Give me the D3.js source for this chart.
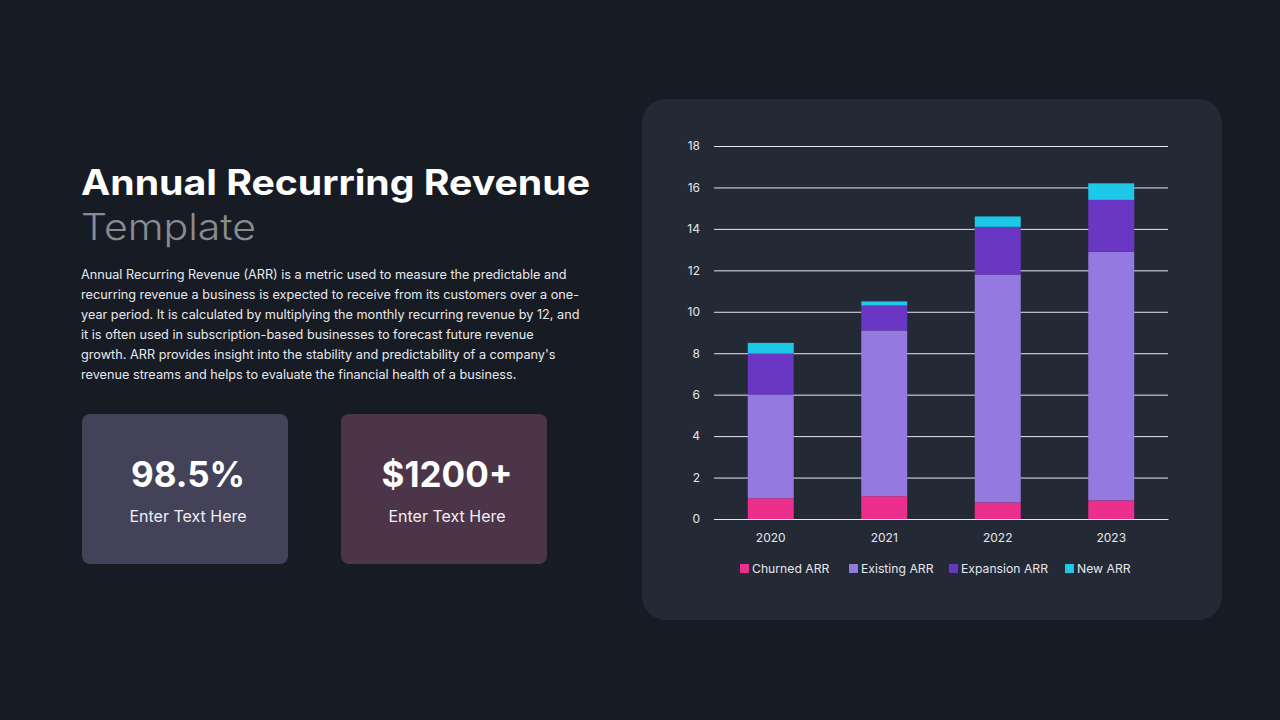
<!DOCTYPE html>
<html><head><meta charset="utf-8">
<script src="https://cdn.jsdelivr.net/npm/d3@7"></script>
<style>
html,body{margin:0;padding:0;background:#171c24;}
svg{display:block;font-family:Inter, "Open Sans", sans-serif;}
</style></head>
<body><svg id="c" width="1280" height="720"></svg>
<script>
const years = ["2020","2021","2022","2023"];
const seriesNames = ["Churned ARR","Existing ARR","Expansion ARR","New ARR"];
const churned = [1.0, 1.1, 0.8, 0.9];
const existing = [5.0, 8.0, 11.0, 12.0];
const expansion = [2.0, 1.2, 2.3, 2.5];
const newArr = [0.5, 0.2, 0.5, 0.8];
const yTicks = [0,2,4,6,8,10,12,14,16,18];
const colors = ["#ec2e8c","#9479e0","#6a37c4","#1ec8e9"];
const paragraph = [
 "Annual Recurring Revenue (ARR) is a metric used to measure the predictable and",
 "recurring revenue a business is expected to receive from its customers over a one-",
 "year period. It is calculated by multiplying the monthly recurring revenue by 12, and",
 "it is often used in subscription-based businesses to forecast future revenue",
 "growth. ARR provides insight into the stability and predictability of a company's",
 "revenue streams and helps to evaluate the financial health of a business."
];
const stats = [{v:"98.5%", t:"Enter Text Here", c:"#434258"},{v:"$1200+", t:"Enter Text Here", c:"#4d3549"}];

const svg = d3.select("#c");
svg.append("rect").attr("width",1280).attr("height",720).attr("fill","#171c24");

// Left text
svg.append("text").attr("x",81).attr("y",195).attr("fill","#ffffff")
  .attr("font-size",35).attr("font-weight",700).attr("textLength",509).attr("lengthAdjust","spacingAndGlyphs")
  .text("Annual Recurring Revenue");
svg.append("text").attr("x",81).attr("y",240).attr("fill","#898b90")
  .attr("font-size",37).attr("font-weight",300).attr("textLength",175).attr("lengthAdjust","spacingAndGlyphs")
  .text("Template");
svg.append("g").selectAll("text").data(paragraph).join("text")
  .attr("x",81).attr("y",(d,i)=>279+i*20).attr("fill","#e8e8ec")
  .attr("font-size",12.7).text(d=>d);

const sg = svg.append("g").selectAll("g").data(stats).join("g")
  .attr("transform",(d,i)=>`translate(${82+i*259},414)`);
sg.append("rect").attr("width",206).attr("height",150).attr("rx",8).attr("fill",d=>d.c);
sg.append("text").attr("x",106).attr("y",73).attr("text-anchor","middle").attr("fill","#fff")
  .attr("font-size",35).attr("font-weight",700).text(d=>d.v);
sg.append("text").attr("x",106).attr("y",108).attr("text-anchor","middle").attr("fill","#f0f0f4")
  .attr("font-size",16).text(d=>d.t);

// Chart panel
svg.append("rect").attr("x",642).attr("y",99).attr("width",580).attr("height",521).attr("rx",24).attr("fill","#232a36");

const x = d3.scaleBand().domain(years).range([714,1168]).paddingInner(0.595).paddingOuter(0.2975);
const y = d3.scaleLinear().domain([0,18]).range([519,146]);

const gy = svg.append("g").attr("transform","translate(714,0)")
  .call(d3.axisLeft(y).tickValues(yTicks).tickSize(-454).tickPadding(14));
gy.select(".domain").remove();
gy.selectAll(".tick line").attr("stroke","#e6e6ea").attr("stroke-width",1);
gy.selectAll(".tick text").attr("fill","#e6e6ea").attr("font-size",12).attr("font-family","Inter, sans-serif");

const data = years.map((yr,i)=>({year:yr,"Churned ARR":churned[i],"Existing ARR":existing[i],"Expansion ARR":expansion[i],"New ARR":newArr[i]}));
const stacked = d3.stack().keys(seriesNames)(data);
svg.append("g").selectAll("g").data(stacked).join("g").attr("fill",(d,i)=>colors[i])
  .selectAll("rect").data(d=>d).join("rect")
  .attr("x",d=>x(d.data.year)).attr("width",x.bandwidth())
  .attr("y",d=>y(d[1])).attr("height",d=>y(d[0])-y(d[1]));

const gx = svg.append("g").attr("transform","translate(0,519)")
  .call(d3.axisBottom(x).tickSize(0).tickPadding(14));
gx.select(".domain").attr("stroke","#e6e6ea");
gx.selectAll(".tick text").attr("fill","#e6e6ea").attr("font-size",12).attr("font-family","Inter, sans-serif");

// Legend
const legX = [740, 849, 949, 1065];
const lg = svg.append("g").selectAll("g").data(seriesNames).join("g")
  .attr("transform",(d,i)=>`translate(${legX[i]},568)`);
lg.append("rect").attr("x",0).attr("y",-4).attr("width",9).attr("height",9).attr("fill",(d,i)=>colors[i]);
lg.append("text").attr("x",12).attr("y",4.5).attr("fill","#e6e6ea").attr("font-size",12.2).text(d=>d);
</script></body></html>
